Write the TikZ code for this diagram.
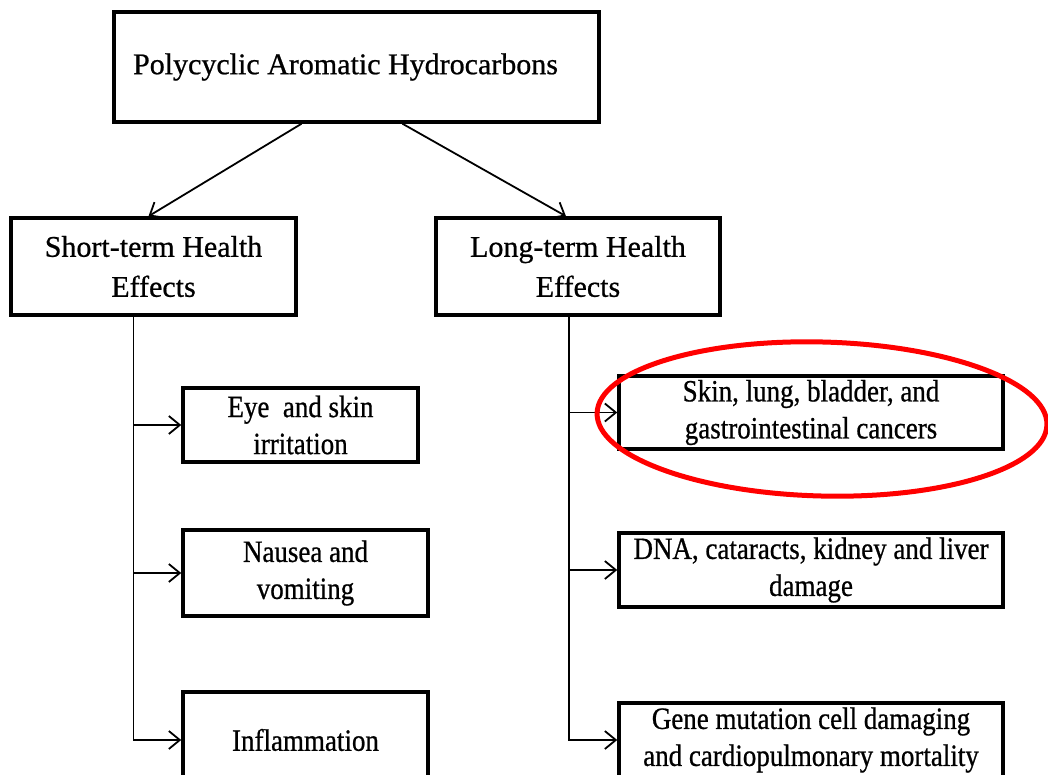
\documentclass[tikz,border=0pt]{standalone}
\usepackage{fontspec}
\setmainfont[FakeBold=0.7]{Liberation Serif}
\newfontfamily\narrowfont[FakeStretch=0.87,FakeBold=0.7]{Liberation Serif}
\usetikzlibrary{arrows.meta}
\tikzset{
  box/.style={draw, line width=3.5pt, align=center, inner sep=0pt,
    font=\fontsize{30}{40}\selectfont},
  leaf/.style={box, font=\narrowfont\fontsize{31}{37}\selectfont},
  link/.style={line width=1.8pt,
    -{Straight Barb[length=11pt,width=18pt,line width=1.8pt]}},
}
\begin{document}
\begin{tikzpicture}[x=1pt,y=-1pt]
\useasboundingbox[fill=white] (0,0) rectangle (1048,775);
% top and the two groups
\node[box, minimum width=485pt, minimum height=110pt] (pah) at (356.5,67) {Polycyclic Aromatic Hydrocarbons\hspace{22pt}};
\node[box, minimum width=285pt, minimum height=97pt] (short) at (153.5,266.5) {Short-term Health\\Effects};
\node[box, minimum width=284pt, minimum height=97pt] (long) at (578,266.5) {Long-term Health\\Effects};
% short-term effects
\node[leaf, minimum width=235pt, minimum height=74pt] (eye) at (300.5,425) {Eye\ \ and skin\\irritation};
\node[leaf, minimum width=245pt, minimum height=86pt] (nausea) at (305.5,573) {Nausea and\\vomiting};
\node[leaf, minimum width=245pt, minimum height=96pt] (inflam) at (305.5,740) {Inflammation};
% long-term effects
\node[leaf, minimum width=384pt, minimum height=73pt] (cancer) at (811,412.5) {Skin, lung, bladder, and\\gastrointestinal cancers};
\node[leaf, minimum width=384pt, minimum height=74pt] (dna) at (811,570) {DNA, cataracts, kidney and liver\\damage};
\node[leaf, minimum width=384pt, minimum height=74pt] (gene) at (811,740) {Gene mutation cell damaging\\and cardiopulmonary mortality};
% connectors
\draw[link] ([xshift=-55pt]pah.south) -- ([xshift=-5pt]short.north);
\draw[link] ([xshift=46pt]pah.south) -- ([xshift=-12pt]long.north);
\draw[link] ([xshift=-20pt]short.south) coordinate (lt) |- (inflam.west);
\draw[link] (lt |- eye.west) -- (eye.west);
\draw[link] (lt |- nausea.west) -- (nausea.west);
\draw[link] ([xshift=-9pt]long.south) coordinate (rt) |- (gene.west);
\draw[link] (rt |- cancer.west) -- (cancer.west);
\draw[link] (rt |- dna.west) -- (dna.west);
% red mark
\draw[red, line width=5pt, rotate around={-1.5:(822,419)}] (822,419) ellipse [x radius=225, y radius=77];
\end{tikzpicture}
\end{document}
